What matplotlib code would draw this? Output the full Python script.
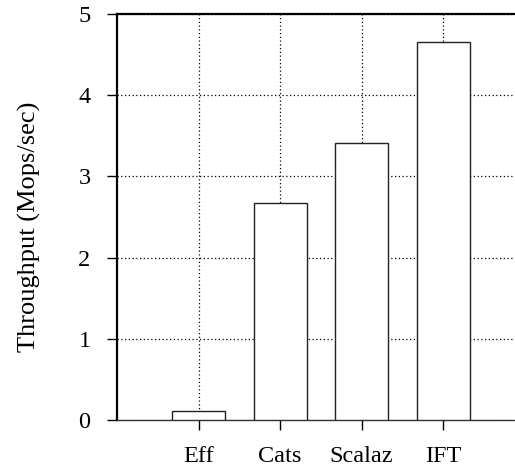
import matplotlib
matplotlib.use("Agg")
import matplotlib.pyplot as plt

categories = ["Eff", "Cats", "Scalaz", "IFT"]
throughput = [0.11, 2.67, 3.41, 4.65]
y_ticks = [0, 1, 2, 3, 4, 5]

plt.rcParams["font.family"] = ["Liberation Serif", "DejaVu Serif"]

fig = plt.figure(figsize=(5.15, 4.71), dpi=100)
ax = fig.add_axes([117 / 515, 51 / 471, 1 - 117 / 515, 406 / 471])

positions = list(range(1, len(categories) + 1))
ax.bar(positions, throughput, width=0.65, color="white", edgecolor="#222222",
       linewidth=1.0, zorder=3)

ax.set_xlim(0, 4.88)
ax.set_ylim(0, 5)
ax.set_xticks(positions)
ax.set_xticklabels(categories)
ax.set_yticks(y_ticks)

ax.grid(True, linestyle=(0, (1, 2)), color="black", linewidth=0.9, zorder=0)

ax.spines["right"].set_visible(False)
ax.spines["left"].set_linewidth(1.6)
ax.spines["top"].set_linewidth(1.6)
ax.spines["bottom"].set_linewidth(1.0)
ax.spines["bottom"].set_color("#333333")

ax.tick_params(axis="both", direction="out", length=7, width=1.0,
               labelsize=17.5, pad=12)
ax.set_ylabel("Throughput (Mops/sec)", fontsize=19)
ax.yaxis.set_label_coords(-0.19, 0.475)

fig.savefig("out.png", dpi=100)
